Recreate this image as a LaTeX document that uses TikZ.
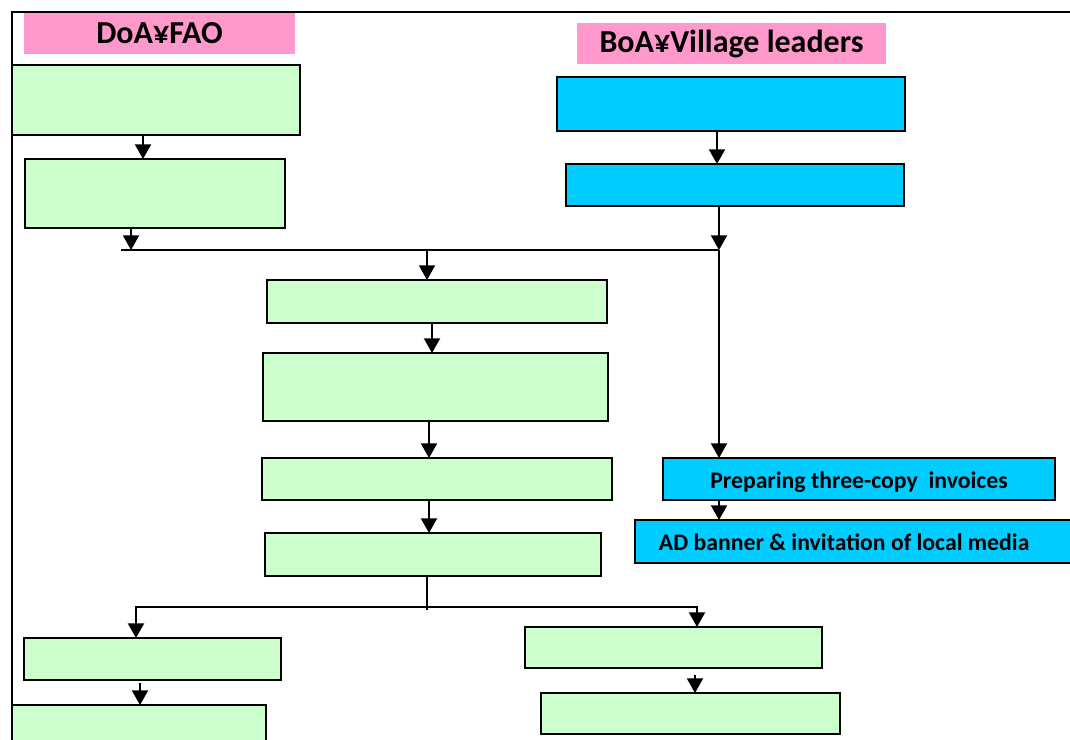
\documentclass[tikz,border=0pt]{standalone}
\usepackage{fontspec}
\setmainfont{Carlito}
\usetikzlibrary{arrows.meta,positioning}

\definecolor{boxgreen}{HTML}{CCFFCC}
\definecolor{boxblue}{HTML}{00CCFF}
\definecolor{headpink}{HTML}{FF99CC}

\tikzset{
  line/.style={line width=1.5pt},
  arr/.style={line width=1.5pt, -{Triangle[width=12pt,length=11pt]}},
  flowbox/.style={draw, line width=1.5pt, inner sep=0pt, outer sep=0pt},
  greenbox/.style={flowbox, fill=boxgreen},
  bluebox/.style={flowbox, fill=boxblue, font=\fontsize{17.8pt}{20pt}\selectfont\bfseries},
  headbox/.style={fill=headpink, inner sep=0pt, font=\fontsize{24pt}{27pt}\selectfont\bfseries},
}

\begin{document}
\begin{tikzpicture}[x=0.75pt, y=-0.75pt]
  \useasboundingbox (0,0) rectangle (1070,739);
  \clip (0,0) rectangle (1070,739);
  % frame
  \draw[line] (12,745) -- (12,12) -- (1075,12);
  % headers
  \node[headbox, minimum width=203.25pt, minimum height=30.75pt] (hdoa) at (159.5,33.5) {DoA¥FAO};
  \node[headbox, minimum width=231.75pt, minimum height=30.75pt] (hboa) at (731.5,43.5) {BoA¥Village leaders};
  % green boxes
  \foreach \n/\xa/\ya/\xb/\yb in {a1/12/65/300/135, a2/25/159/285/228,
      c1/267/280/607/323, c2/263/353/608/421, c3/262/458/612/500, c4/265/533/601/576,
      d1/24/638/281/680, d2/12/705/266/760, e1/525/627/822/668, e2/541/693/840/734} {
    \node[greenbox, minimum width={(\xb-\xa)*0.75pt}, minimum height={(\yb-\ya)*0.75pt}]
      (\n) at ({(\xa+\xb)/2},{(\ya+\yb)/2}) {};
  }
  % blue boxes
  \foreach \n/\xa/\ya/\xb/\yb in {b1/557/77/905/131, b2/566/164/904/206} {
    \node[bluebox, minimum width={(\xb-\xa)*0.75pt}, minimum height={(\yb-\ya)*0.75pt}]
      (\n) at ({(\xa+\xb)/2},{(\ya+\yb)/2}) {};
  }
  \node[bluebox, minimum width=294pt, minimum height=31.5pt, text height=13.5pt, text depth=0pt]
    (b3) at (859,479) {Preparing three-copy\ \ invoices};
  \node[bluebox, minimum width=328.5pt, minimum height=32.25pt, text height=13.5pt, text depth=0pt]
    (b4) at (853.5,541.5) {\hspace*{-14pt}AD banner \& invitation of local media};
  % joins
  \coordinate (jl) at (121,250);
  \coordinate (jr) at (719,250);
  \coordinate (k) at (427,607);
  \coordinate (kl) at (136,607);
  \coordinate (kr) at (697,607);
  % left column
  \draw[arr] (a1.south -| 143,0) -- (a2.north -| 143,0);
  \draw[arr] (a2.south -| 131,0) -- (jl -| 131,0);
  % right column
  \draw[arr] (b1.south -| 717,0) -- (b2.north -| 717,0);
  \draw[arr] (b2.south -| jr) -- (jr);
  \draw[line] (jl) -- (jr);
  \draw[arr] (jr) -- (b3.north -| jr);
  \draw[arr] (b3.south -| jr) -- (b4.north -| jr);
  % middle column
  \draw[arr] (jl -| 427,0) -- (c1.north -| 427,0);
  \draw[arr] (c1.south -| 432,0) -- (c2.north -| 432,0);
  \draw[arr] (c2.south -| 429,0) -- (c3.north -| 429,0);
  \draw[arr] (c3.south -| 429,0) -- (c4.north -| 429,0);
  % split
  \draw[line] (c4.south -| k) -- ([yshift=-2pt]k);
  \draw[arr] (k) -- (kl) -- (d1.north -| kl);
  \draw[arr] (k) -- (kr) -- (e1.north -| kr);
  \draw[arr] ([yshift=-2pt]d1.south -| 140,0) -- (d2.north -| 140,0);
  \draw[arr] ([yshift=-5pt]e1.south -| 695,0) -- (e2.north -| 695,0);
\end{tikzpicture}
\end{document}
